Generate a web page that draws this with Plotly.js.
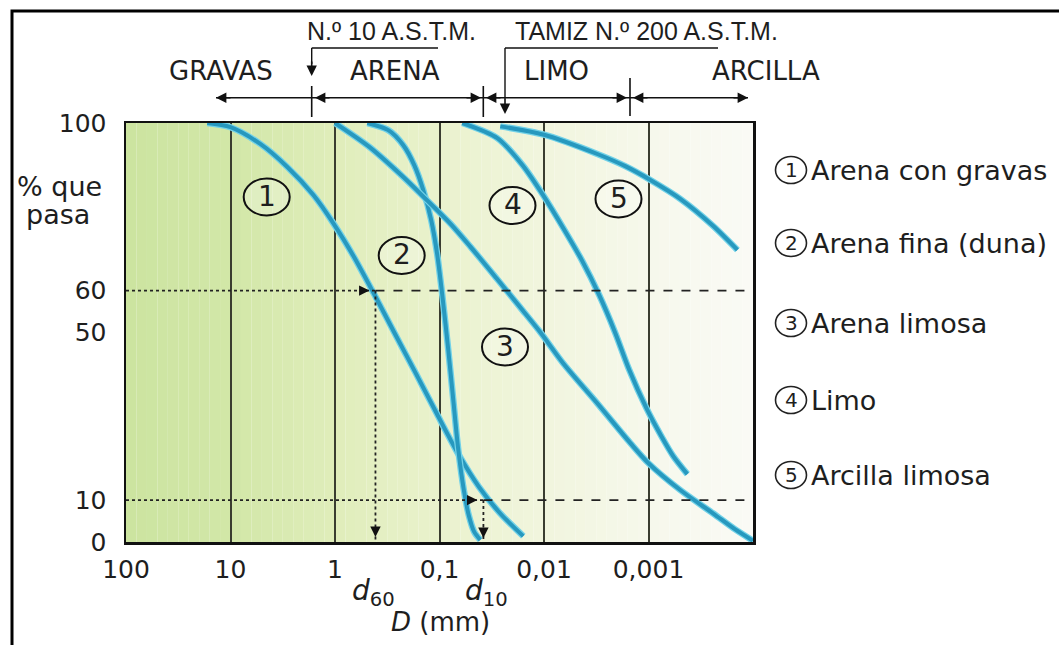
<!DOCTYPE html>
<html><head><meta charset="utf-8">
<script src="https://cdn.plot.ly/plotly-3.0.1.min.js"></script>
<style>html,body{margin:0;padding:0;background:#fff;}#chart{width:1059px;height:645px;}</style>
</head><body><div id="chart"></div>
<script>
// ---------------- DATA ----------------
const seriesNames = ['Arena con gravas', 'Arena fina (duna)', 'Arena limosa', 'Limo', 'Arcilla limosa'];
const seriesNums  = ['1', '2', '3', '4', '5'];

// D (mm) and % que pasa
const s1_D = [16.7, 10.0, 5.19, 2.86, 1.61, 1.04, 0.668, 0.425, 0.267, 0.168, 0.106, 0.0664, 0.0418, 0.0262, 0.0158];
const s1_P = [100, 99.0, 95.0, 89.5, 82.8, 76.1, 68.3, 59.3, 49.7, 40.2, 30.6, 21.1, 13.1, 6.8, 1.4];

const s2_D = [0.491, 0.309, 0.222, 0.174, 0.143, 0.120, 0.105, 0.094, 0.0824, 0.0738, 0.0661, 0.0585, 0.0525, 0.0465, 0.0407];
const s2_P = [100, 98.3, 94.7, 89.9, 84.0, 76.8, 68.5, 58.9, 45.8, 33.9, 22.0, 12.4, 6.4, 2.4, 0.5];

const s3_D = [1.0, 0.47, 0.222, 0.131, 0.0788, 0.0507, 0.0286, 0.0169, 0.0108, 0.00653, 0.00309, 0.00149, 0.0010, 0.000497, 0.00024, 0.000148, 0.0001];
const s3_P = [100, 94.3, 87.1, 81.5, 76, 70.5, 63, 56, 50, 42.6, 33.1, 23.6, 18.8, 12.4, 6.8, 3, 0.3];

const s4_D = [0.0605, 0.028, 0.0161, 0.0102, 0.00653, 0.00431, 0.00296, 0.00208, 0.00153, 0.00105, 0.000755, 0.00058, 0.000425];
const s4_P = [100, 96.4, 90.0, 82.8, 74.9, 67.1, 58.9, 49.9, 41.1, 32.0, 25.3, 20.5, 16.2];

const s5_D = [0.0262, 0.010, 0.00309, 0.00167, 0.00096, 0.000497, 0.00024, 0.000141];
const s5_P = [99.2, 97.2, 92.6, 89.7, 86.4, 81.9, 75.4, 69.7];

const xTickVals = [100, 10, 1, 0.1, 0.01, 0.001];
const xTickText = ['100', '10', '1', '0,1', '0,01', '0,001'];
const yTickVals = [0, 10, 50, 60, 100];
const yTickText = ['0', '10', '50', '60', '100'];

const d60 = 0.41, d10 = 0.038;   // characteristic diameters shown
const p60 = 60, p10 = 10;

const zoneLabels  = ['GRAVAS', 'ARENA', 'LIMO', 'ARCILLA'];
const sieveLabels = ['N.º 10 A.S.T.M.', 'TAMIZ N.º 200 A.S.T.M.'];
const yTitleLines = ['% que', 'pasa'];
const xTitle = '<i>D</i> (mm)';

// ---------------- LAYOUT HELPERS ----------------
const W = 1059, H = 645, L = 126, R = 306, T = 123, B = 103;
const PW = W - L - R, PH = H - T - B;
const px = X => (X - L) / PW;
const py = Y => (H - B - Y) / PH;
const FONT = 'DejaVu Sans, Arial, sans-serif';
const FONT2 = 'Liberation Sans, Arial, sans-serif';
const TXT = '#1e1e1e';
const CORE = '#2798be', HALO = '#72d2e8';

const seriesD = [s1_D, s2_D, s3_D, s4_D, s5_D];
const seriesP = [s1_P, s2_P, s3_P, s4_P, s5_P];

const traces = [];
seriesD.forEach((d, i) => {
  traces.push({x: d, y: seriesP[i], type: 'scatter', mode: 'lines', name: seriesNames[i],
    showlegend: false, hoverinfo: 'skip', line: {color: HALO, width: 6.5, shape: 'spline', smoothing: 0.8}});
  traces.push({x: d, y: seriesP[i], type: 'scatter', mode: 'lines', name: seriesNames[i],
    showlegend: false, line: {color: CORE, width: 4, shape: 'spline', smoothing: 0.8}});
});

// ---------------- SHAPES ----------------
const shapes = [];
// background gradient strips (green on the left, fading to white on the right)
const stops = [[0, [204, 228, 160]], [0.17, [210, 231, 168]], [0.33, [223, 237, 186]], [0.5, [234, 242, 205]],
               [0.67, [241, 245, 222]], [0.83, [246, 248, 235]], [1, [250, 250, 246]]];
function colAt(t) {
  for (let k = 0; k < stops.length - 1; k++) {
    const a = stops[k], b = stops[k + 1];
    if (t >= a[0] && t <= b[0]) {
      const f = (t - a[0]) / (b[0] - a[0]);
      const c = a[1].map((v, j) => Math.round(v + (b[1][j] - v) * f));
      return 'rgb(' + c.join(',') + ')';
    }
  }
  return 'rgb(250,250,246)';
}
const NS = 60;
for (let k = 0; k < NS; k++) {
  const x0 = Math.pow(10, 2 - 6 * k / NS), x1 = Math.pow(10, 2 - 6 * (k + 1) / NS);
  shapes.push({type: 'rect', xref: 'x', yref: 'paper', x0: x0, x1: x1 * 0.999, y0: 0, y1: 1,
    fillcolor: colAt((k + 0.5) / NS), line: {width: 0}, layer: 'below'});
}
// outer frame of the figure
shapes.push({type: 'rect', xref: 'paper', yref: 'paper', x0: px(12), x1: px(1075), y0: py(660), y1: py(11),
  line: {color: '#000', width: 3}});

function pline(x0, y0, x1, y1, w, dash) {
  shapes.push({type: 'line', xref: 'paper', yref: 'paper', x0: px(x0), y0: py(y0), x1: px(x1), y1: py(y1),
    line: {color: '#111', width: w || 1.6, dash: dash || 'solid'}});
}
// range arrows line
pline(216, 97.7, 748, 97.7, 1.6);
pline(311.7, 86, 311.7, 117, 1.6);
pline(483.3, 86, 483.3, 117, 1.6);
pline(630, 78, 630, 116, 1.6);
// sieve brackets
pline(311.7, 48, 438, 48, 1.4);
pline(311.7, 48, 311.7, 64, 1.4);
pline(505, 48, 718, 48, 1.4);
pline(505, 48, 505, 100, 1.4);

// guide lines d60 / d10
function dline(x0, x1, y0, y1, dash) {
  shapes.push({type: 'line', xref: 'x', yref: 'y', x0: x0, x1: x1, y0: y0, y1: y1,
    line: {color: '#222', width: 1.8, dash: dash}});
}
dline(100, d60, p60, p60, 'dot');
dline(d60, 0.0001, p60, p60, 'dash');
dline(d60, d60, p60, 0, 'dot');
dline(100, d10, p10, p10, 'dot');
dline(d10, 0.0001, p10, p10, 'dash');
dline(d10, d10, p10, 0, 'dot');

// circled numbers inside plot
const circPos = [[266.7, 197], [401.7, 255.5], [505, 347], [512.5, 205.5], [618.5, 199]];
// legend rows
const legY = [170, 243, 323, 400, 475];

const annotations = [];
circPos.forEach((c, i) => {
  shapes.push({type: 'circle', xref: 'paper', yref: 'paper', x0: px(c[0] - 23), x1: px(c[0] + 23),
    y0: py(c[1] + 18.5), y1: py(c[1] - 18.5), line: {color: '#111', width: 2}, fillcolor: 'rgba(255,255,255,0.25)'});
  annotations.push({xref: 'paper', yref: 'paper', x: px(c[0]), y: py(c[1] - 1), text: seriesNums[i], showarrow: false,
    xanchor: 'center', yanchor: 'middle', font: {family: FONT, size: 28, color: TXT}});
});
legY.forEach((yy, i) => {
  shapes.push({type: 'circle', xref: 'paper', yref: 'paper', x0: px(791 - 15.5), x1: px(791 + 15.5),
    y0: py(yy + 13.5), y1: py(yy - 13.5), line: {color: '#222', width: 1.6}});
  annotations.push({xref: 'paper', yref: 'paper', x: px(791), y: py(yy), text: seriesNums[i], showarrow: false,
    xanchor: 'center', yanchor: 'middle', font: {family: FONT, size: 20, color: TXT}});
  annotations.push({xref: 'paper', yref: 'paper', x: px(809), y: py(yy), text: seriesNames[i], showarrow: false,
    xanchor: 'left', yanchor: 'middle', font: {family: FONT, size: 27, color: TXT}});
});

function ptxt(X, Y, text, size, fam, anchor) {
  annotations.push({xref: 'paper', yref: 'paper', x: px(X), y: py(Y), text: text, showarrow: false,
    xanchor: anchor || 'center', yanchor: 'middle', font: {family: fam || FONT, size: size, color: TXT}});
}
// top labels
ptxt(391, 31, sieveLabels[0], 25, FONT2);
ptxt(646, 31, sieveLabels[1], 25, FONT2);
ptxt(221, 71, zoneLabels[0], 26);
ptxt(395, 71, zoneLabels[1], 26);
ptxt(556, 71, zoneLabels[2], 26);
ptxt(766, 71, zoneLabels[3], 26);
// axis titles
ptxt(59, 186, yTitleLines[0], 27);
ptxt(58, 214, yTitleLines[1], 27);
ptxt(440, 622, xTitle, 26);
ptxt(373, 592, '<i>d</i><sub>60</sub>', 28);
ptxt(486, 592, '<i>d</i><sub>10</sub>', 28);

// arrowheads (paper coords)
function parrow(X, Y, ax, ay) {
  annotations.push({xref: 'paper', yref: 'paper', x: px(X), y: py(Y), ax: ax, ay: ay, text: '',
    showarrow: true, arrowhead: 2, arrowsize: 1.3, arrowwidth: 1.6, arrowcolor: '#111'});
}
parrow(216, 97.7, 16, 0);
parrow(315, 97.7, 16, 0);
parrow(481, 97.7, -16, 0);
parrow(486, 97.7, 16, 0);
parrow(627, 97.7, -16, 0);
parrow(633, 97.7, 16, 0);
parrow(748, 97.7, -16, 0);
parrow(311.7, 76, 0, -16);
parrow(505, 114, 0, -16);
// arrowheads on the guide lines (data coords; log axis takes log10)
function darrow(D, P, ax, ay, so) {
  annotations.push({xref: 'x', yref: 'y', x: Math.log10(D), y: P, ax: ax, ay: ay, text: '', standoff: so,
    showarrow: true, arrowhead: 2, arrowsize: 1.3, arrowwidth: 1.6, arrowcolor: '#111'});
}
darrow(d60, p60, -16, 0, 6);
darrow(d60, 0, 0, -16, 5);
darrow(d10, p10, -16, 0, 6);
darrow(d10, 0, 0, -16, 4);

const layout = {
  width: W, height: H,
  margin: {l: L, r: R, t: T, b: B, pad: 0},
  paper_bgcolor: '#ffffff', plot_bgcolor: 'rgba(0,0,0,0)',
  showlegend: false,
  xaxis: {type: 'log', range: [2, -4], tickmode: 'array', tickvals: xTickVals, ticktext: xTickText,
    ticks: '', ticklabelstandoff: 3, showgrid: true, gridcolor: '#3a3d30', gridwidth: 2,
    showline: true, linecolor: '#111', linewidth: 2.5, mirror: true, zeroline: false,
    tickfont: {family: FONT, size: 25, color: TXT}},
  yaxis: {range: [0, 100], tickmode: 'array', tickvals: yTickVals, ticktext: yTickText,
    ticks: '', ticklabelstandoff: 12, showgrid: false, zeroline: false,
    showline: true, linecolor: '#111', linewidth: 2.5, mirror: true,
    tickfont: {family: FONT, size: 25, color: TXT}},
  shapes: shapes,
  annotations: annotations
};

Plotly.newPlot('chart', traces, layout, {displayModeBar: false, staticPlot: true});
</script>
</body></html>
